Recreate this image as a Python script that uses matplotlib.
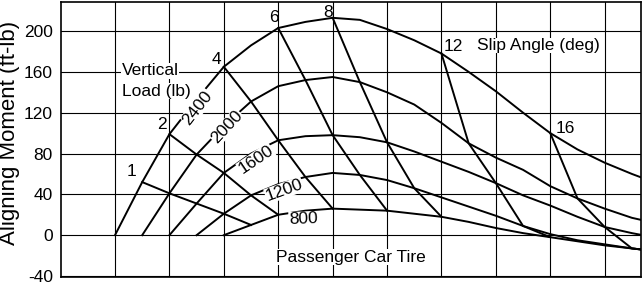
import matplotlib
matplotlib.use("Agg")
import matplotlib.pyplot as plt

plt.rcParams['font.family'] = ['Liberation Sans', 'DejaVu Sans']
plt.rcParams['axes.unicode_minus'] = False

# aligning moment (ft-lb) vs slip angle (deg), one list per vertical load (lb)
slip = list(range(0, 21))
loads = [2400, 2000, 1600, 1200, 800]
m2400 = [0, 52, 99, 133, 165, 186, 203, 209, 213, 211, 202, 191, 178, 160, 141, 120, 100, 84, 71, 60, 50]
m2000 = [0, 41, 79, 107, 131, 146, 152, 155, 150, 140, 128, 110, 90, 76, 64, 48, 36, 26, 17, 11]
m1600 = [0, 31, 61, 80, 93, 97, 98, 96, 91, 82, 72, 62, 51, 39, 29, 18, 8, 2, -3]
m1200 = [0, 21, 39, 50, 57, 61, 59, 54, 46, 37, 28, 19, 9, 1, -5, -9, -13, -16]
m800 = [0, 10, 20, 24, 26, 25, 24, 21, 18, 13, 7, 2, -2, -6, -10, -13, -16]
moments = [m2400, m2000, m1600, m1200, m800]

slip_lines = [1, 2, 4, 6, 8, 12, 16]
yticks = [-40, 0, 40, 80, 120, 160, 200]


def carpet_x(load, s):
    # carpet plot: each load curve shifted half a grid cell per 400 lb
    return 1 + (2400 - load) / 800 + s / 2


fig = plt.figure(figsize=(6.44, 2.85), dpi=100)
ax = fig.add_axes([60.6 / 644, 8 / 285, 580 / 644, 275 / 285])

lw = 1.4
for load, m in zip(loads, moments):
    xs = [carpet_x(load, s) for s in slip[:len(m)]]
    ax.plot(xs, m, color='black', lw=lw, zorder=3, solid_joinstyle='round')

for s in slip_lines:
    xs = [carpet_x(load, s) for load in loads]
    ys = [m[s] for m in moments]
    ax.plot(xs, ys, color='black', lw=lw, zorder=3, solid_joinstyle='round')

ax.set_xlim(0, 10.66)
ax.set_ylim(-41, 228.5)
ax.set_xticks(range(1, 11))
ax.set_yticks(yticks)
ax.grid(color='black', lw=0.8)
ax.set_axisbelow(True)
ax.tick_params(length=0, labelbottom=False, labelsize=12.5, pad=5.5)
for sp in ax.spines.values():
    sp.set_linewidth(1.2)

box = dict(facecolor='white', edgecolor='none', pad=0.3)
fs = 12.5

# load labels along the curves
ax.text(2.52, 125, '2400', rotation=52, ha='center', va='center', fontsize=fs, bbox=box, zorder=4)
ax.text(3.06, 106, '2000', rotation=47, ha='center', va='center', fontsize=fs, bbox=box, zorder=4)
ax.text(3.59, 74, '1600', rotation=34, ha='center', va='center', fontsize=fs, bbox=box, zorder=4)
ax.text(4.11, 44, '1200', rotation=20, ha='center', va='center', fontsize=fs, bbox=box, zorder=4)
ax.text(4.46, 15.5, '800', rotation=2, ha='center', va='center', fontsize=fs, bbox=box, zorder=4)

ax.text(1.12, 161, 'Vertical', ha='left', va='center', fontsize=fs, bbox=box, zorder=4)
ax.text(1.12, 141, 'Load (lb)', ha='left', va='center', fontsize=fs, bbox=box, zorder=4)

# slip angle labels
slip_pos = [(1.31, 62), (1.86, 108), (2.86, 172), (3.93, 213), (4.92, 218), (7.21, 185), (9.27, 105)]
for s, (x, y) in zip(slip_lines, slip_pos):
    ax.text(x, y, str(s), ha='center', va='center', fontsize=fs, zorder=4)
ax.text(7.65, 186, 'Slip Angle (deg)', ha='left', va='center', fontsize=fs, bbox=box, zorder=4)

ax.text(3.96, -21.5, 'Passenger Car Tire', ha='left', va='center', fontsize=fs, bbox=box, zorder=4)

fig.text(10 / 644, 1 - 133 / 285, 'Aligning Moment (ft-lb)', rotation=90,
         ha='center', va='center', fontsize=16)

fig.savefig('out.png', dpi=100)
